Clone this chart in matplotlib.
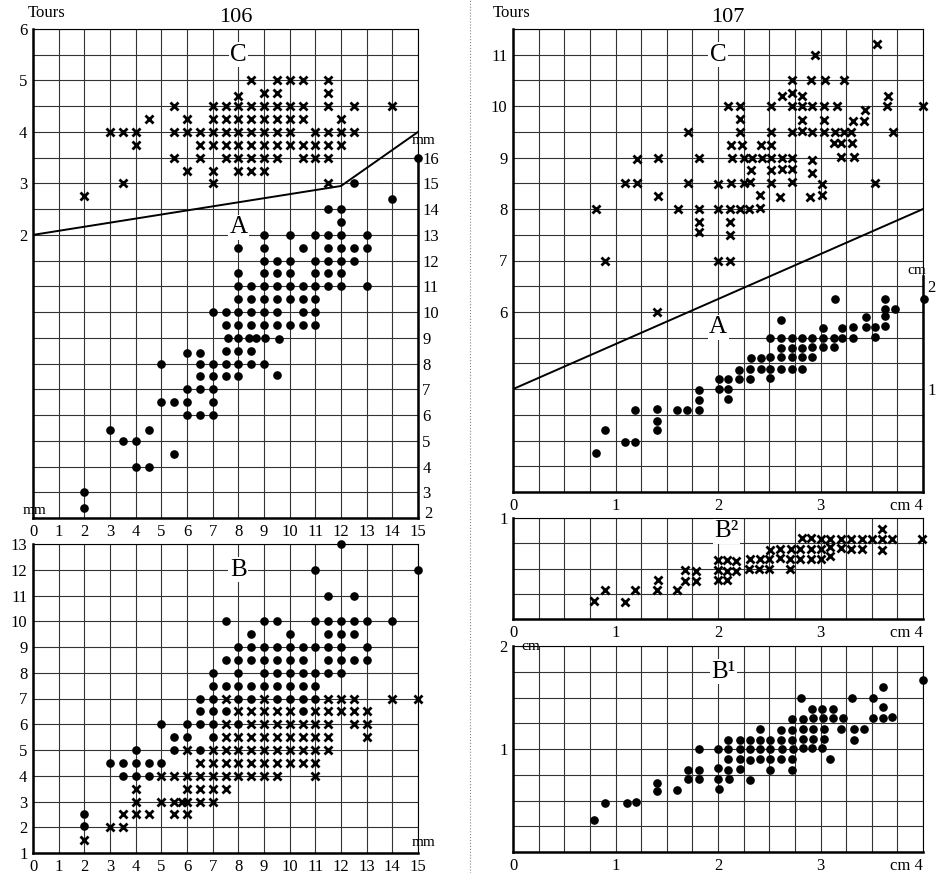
import numpy as np
import matplotlib.pyplot as plt
from matplotlib.lines import Line2D
from matplotlib.transforms import ScaledTranslation

plt.rcParams['font.family'] = ['Liberation Serif', 'DejaVu Serif']

# ---------------- 106 : C (crosses)  x = mm, y = tours
c106_x = [2, 3, 3.5, 4, 4, 3.5, 4.5,
          5.5, 5.5, 5.5, 6, 6, 6, 6.5, 6.5, 6.5,
          7, 7, 7, 7, 7, 7, 7.5, 7.5, 7.5, 7.5, 7.5,
          8, 8, 8, 8, 8, 8, 8, 8.5, 8.5, 8.5, 8.5, 8.5, 8.5, 8.5,
          9, 9, 9, 9, 9, 9, 9, 9.5, 9.5, 9.5, 9.5, 9.5, 9.5, 9.5,
          10, 10, 10, 10, 10, 10.5, 10.5, 10.5, 10.5, 10.5,
          11, 11, 11, 11.5, 11.5, 11.5, 11.5, 11.5, 11.5, 11.5,
          12, 12, 12, 12.5, 12.5, 14]
c106_t = [2.75, 4, 4, 4, 3.75, 3, 4.25,
          4.5, 4, 3.5, 4.25, 4, 3.25, 4, 3.75, 3.5,
          4.5, 4.25, 4, 3.75, 3.25, 3, 4.5, 4.25, 4, 3.75, 3.5,
          4.7, 4.5, 4.25, 4, 3.75, 3.5, 3.25, 5, 4.5, 4.25, 4, 3.75, 3.5, 3.25,
          4.75, 4.5, 4.25, 4, 3.75, 3.5, 3.25, 5, 4.75, 4.5, 4.25, 4, 3.75, 3.5,
          5, 4.5, 4.25, 4, 3.75, 5, 4.5, 4.25, 3.75, 3.5,
          4, 3.75, 3.5, 5, 4.75, 4.5, 4, 3.75, 3.5, 3,
          4.25, 4, 3.75, 4.5, 4, 4.5]

# ---------------- 106 : A (dots)  x = mm, y = mm (right scale)
a106_x = [15, 12.5, 14, 11.5, 12, 12,
          9, 10, 11, 11.5, 12, 13,
          8, 9, 10.5, 11.5, 12, 12.5, 13,
          9, 9.5, 10, 11, 11.5, 12, 12.5,
          8, 9, 9.5, 10, 11, 11.5, 12,
          8, 8.5, 9, 9.5, 10, 10.5, 11, 11.5, 12, 13,
          8, 8.5, 9, 9.5, 10, 10.5, 11,
          7, 7.5, 8, 8.5, 9, 9.5, 10.5, 11,
          7.5, 8, 8.5, 9, 9.5, 10, 10.5, 11,
          7.6, 8, 8.4, 8.7, 9.05, 9.6,
          6, 6.5, 7.5, 8, 8.5,
          5, 6.5, 7, 7.5, 8, 8.5, 9,
          6.5, 7, 7.5, 8, 9.5,
          6, 6.5, 7, 5, 5.5, 6, 7, 6, 6.5, 7,
          3, 4.5, 3.5, 4, 5.5, 4, 4.5, 2, 2]
a106_y = [16, 15, 14.4, 14, 14, 13.5,
          13, 13, 13, 13, 13, 13,
          12.5, 12.5, 12.5, 12.5, 12.5, 12.5, 12.5,
          12, 12, 12, 12, 12, 12, 12,
          11.5, 11.5, 11.5, 11.5, 11.5, 11.5, 11.5,
          11, 11, 11, 11, 11, 11, 11, 11, 11, 11,
          10.5, 10.5, 10.5, 10.5, 10.5, 10.5, 10.5,
          10, 10, 10, 10, 10, 10, 10, 10,
          9.5, 9.5, 9.5, 9.5, 9.5, 9.5, 9.5, 9.5,
          9, 9, 9, 9, 9, 8.95,
          8.4, 8.4, 8.5, 8.5, 8.5,
          8, 8, 8, 8, 8, 8, 8,
          7.5, 7.5, 7.5, 7.5, 7.55,
          7, 7, 7, 6.5, 6.5, 6.5, 6.5, 6, 6, 6,
          5.4, 5.4, 5, 5, 4.5, 4, 4, 3, 2.4]

# ---------------- 106 : B  x = mm
b106_dot_x = [12, 11, 15, 11.5, 12.5,
              7.5, 9, 9.5, 11, 11.5, 12, 12.5, 13, 14,
              8.5, 10, 11.5, 12, 12.5,
              8, 8.5, 9, 9.5, 10, 10.5, 11, 11.5, 12, 13,
              7.5, 8, 8.5, 9, 9.5, 10, 10.5, 11.5, 12, 12.5, 13,
              7, 8, 9, 9.5, 10, 10.5, 11, 11.5, 12,
              7, 7.5, 8, 8.5, 9, 9.5, 10, 10.5, 11,
              6.5, 7, 8, 8.5, 9.5, 10, 10.5, 11,
              6.5, 7, 7.5, 10.5,
              5, 6, 6.5, 7, 8,
              5.5, 6, 7, 4, 5.5, 6.5,
              3, 3.5, 4, 4.5, 5, 3.5, 4, 4.5, 2, 2]
b106_dot_y = [13, 12, 12, 11, 11,
              10, 10, 10, 10, 10, 10, 10, 10, 10,
              9.5, 9.5, 9.5, 9.5, 9.5,
              9, 9, 9, 9, 9, 9, 9, 9, 9, 9,
              8.5, 8.5, 8.5, 8.5, 8.5, 8.5, 8.5, 8.5, 8.5, 8.5, 8.5,
              8, 8, 8, 8, 8, 8, 8, 8, 8,
              7.5, 7.5, 7.5, 7.5, 7.5, 7.5, 7.5, 7.5, 7.5,
              7, 7, 7, 7, 7, 7, 7, 7,
              6.5, 6.5, 6.5, 6.5,
              6, 6, 6, 6, 6,
              5.5, 5.5, 5.5, 5, 5, 5,
              4.5, 4.5, 4.5, 4.5, 4.5, 4, 4, 4, 2.5, 2.05]
b106_x_x = [7.5, 9, 11.5, 12, 12.5, 14, 15,
            8, 8.5, 9, 9.5, 10, 11, 11.5, 12, 12.5, 13,
            7.5, 8.5, 9, 9.5, 10, 10.5, 11, 11.5, 12.5, 13,
            7.5, 8, 8.5, 9, 9.5, 10, 10.5, 11, 11.5, 13,
            6, 7, 7.5, 8, 8.5, 9, 9.5, 10, 10.5, 11, 11.5,
            6.5, 7, 7.5, 8, 8.5, 9, 9.5, 10, 10.5, 11,
            5, 5.5, 6, 6.5, 7, 7.5, 8, 8.5, 9, 9.5, 11,
            4, 6, 6.5, 7, 7.5,
            4, 5, 5.5, 5.8, 6, 6.5, 7,
            3.5, 4, 4.5, 5.5, 6, 3, 3.5, 2]
b106_x_y = [7, 7, 7, 7, 7, 7, 7,
            6.5, 6.5, 6.5, 6.5, 6.5, 6.5, 6.5, 6.5, 6.5, 6.5,
            6, 6, 6, 6, 6, 6, 6, 6, 6, 6,
            5.5, 5.5, 5.5, 5.5, 5.5, 5.5, 5.5, 5.5, 5.5, 5.5,
            5, 5, 5, 5, 5, 5, 5, 5, 5, 5, 5,
            4.5, 4.5, 4.5, 4.5, 4.5, 4.5, 4.5, 4.5, 4.5, 4.5,
            4, 4, 4, 4, 4, 4, 4, 4, 4, 4, 4,
            3.5, 3.5, 3.5, 3.5, 3.5,
            3, 3, 3, 3, 3, 3, 3,
            2.5, 2.5, 2.5, 2.5, 2.5, 2, 2, 1.5]

# ---------------- 107 : C (crosses)  x = cm, y = tours
c107_x = [2.95, 3.55, 2.72, 2.91, 3.04, 3.23, 2.62, 2.72, 2.82, 3.66,
          2.10, 2.21, 2.52, 2.72, 2.82, 2.92, 3.03, 3.16, 3.43, 3.65, 4.0,
          2.21, 2.82, 3.03, 3.32, 3.42,
          1.71, 2.21, 2.52, 2.72, 2.82, 2.92, 3.03, 3.14, 3.23, 3.30, 3.71,
          2.13, 2.23, 2.42, 2.52, 3.13, 3.20, 3.31,
          1.21, 1.41, 1.81, 2.14, 2.25, 2.33, 2.43, 2.52, 2.62, 2.72, 2.92, 3.20, 3.33,
          2.32, 2.52, 2.62, 2.72, 2.92,
          1.09, 1.21, 1.71, 2.0, 2.13, 2.25, 2.31, 2.52, 2.72, 3.01, 3.53,
          1.41, 2.41, 2.60, 2.90, 3.01,
          0.81, 1.61, 1.81, 2.0, 2.12, 2.21, 2.30, 2.41,
          1.81, 2.12, 1.81, 2.12, 0.9, 2.0, 2.12, 1.40]
c107_t = [11, 11.2, 10.5, 10.5, 10.5, 10.5, 10.2, 10.25, 10.2, 10.2,
          10, 10, 10, 10, 10, 10, 10, 10, 9.92, 10, 10,
          9.75, 9.73, 9.73, 9.72, 9.72,
          9.5, 9.5, 9.5, 9.5, 9.52, 9.5, 9.5, 9.5, 9.5, 9.5, 9.5,
          9.25, 9.25, 9.25, 9.25, 9.28, 9.28, 9.28,
          8.97, 9, 9, 9, 9, 9, 9, 9, 9, 9, 8.95, 9.02, 9.02,
          8.75, 8.75, 8.78, 8.78, 8.7,
          8.5, 8.5, 8.5, 8.48, 8.5, 8.5, 8.52, 8.5, 8.52, 8.48, 8.5,
          8.25, 8.27, 8.24, 8.24, 8.27,
          8, 8, 8.01, 8, 8, 8, 8.01, 8.03,
          7.75, 7.75, 7.55, 7.5, 7, 7, 7, 6]

# ---------------- 107 : A (dots)  x = cm, y = cm (right scale)
a107_x = [0.81, 0.90, 1.09, 1.19, 1.19, 1.40, 1.40, 1.40, 1.60, 1.70,
          1.81, 1.81, 1.81, 2.01, 2.01, 2.10, 2.10, 2.10, 2.20, 2.20,
          2.31, 2.31, 2.32, 2.42, 2.42, 2.51, 2.51, 2.51, 2.51,
          2.61, 2.61, 2.61, 2.61, 2.61, 2.72, 2.72, 2.72, 2.72,
          2.82, 2.82, 2.82, 2.82, 2.92, 2.92, 2.92, 3.02, 3.02, 3.02,
          3.13, 3.13, 3.14, 3.21, 3.21, 3.32, 3.32, 3.44, 3.44, 3.53, 3.53,
          3.63, 3.63, 3.63, 3.63, 3.73, 4.01]
a107_y = [0.38, 0.60, 0.49, 0.49, 0.80, 0.81, 0.69, 0.60, 0.80, 0.80,
          0.80, 0.89, 0.99, 1.0, 1.10, 1.10, 1.0, 0.90, 1.10, 1.19,
          1.10, 1.20, 1.30, 1.20, 1.30, 1.11, 1.20, 1.31, 1.50,
          1.67, 1.50, 1.40, 1.31, 1.20, 1.50, 1.40, 1.31, 1.20,
          1.50, 1.40, 1.31, 1.20, 1.50, 1.41, 1.31, 1.59, 1.50, 1.41,
          1.50, 1.41, 1.88, 1.59, 1.50, 1.60, 1.50, 1.70, 1.60, 1.60, 1.51,
          1.88, 1.78, 1.71, 1.61, 1.78, 1.88]

# ---------------- 107 : B2 (crosses)
b2_x = [0.79, 0.90, 1.09, 1.19, 1.40, 1.41, 1.60, 1.68, 1.68, 1.79, 1.79,
        2.0, 2.0, 2.0, 2.09, 2.09, 2.09, 2.18, 2.18, 2.30, 2.31, 2.40, 2.41,
        2.50, 2.50, 2.51, 2.60, 2.60, 2.70, 2.70, 2.71, 2.80, 2.80, 2.82,
        2.91, 2.91, 2.91, 3.0, 3.0, 3.0, 3.09, 3.09, 3.09, 3.20, 3.20,
        3.30, 3.30, 3.40, 3.40, 3.50, 3.60, 3.60, 3.60, 3.70, 3.99]
b2_y = [0.18, 0.29, 0.17, 0.29, 0.29, 0.39, 0.29, 0.38, 0.49, 0.38, 0.48,
        0.39, 0.49, 0.58, 0.39, 0.48, 0.58, 0.48, 0.57, 0.50, 0.59, 0.50, 0.59,
        0.50, 0.59, 0.68, 0.60, 0.69, 0.50, 0.59, 0.69, 0.59, 0.69, 0.80,
        0.59, 0.69, 0.80, 0.59, 0.69, 0.79, 0.62, 0.71, 0.79, 0.70, 0.79,
        0.69, 0.79, 0.69, 0.79, 0.79, 0.89, 0.79, 0.68, 0.79, 0.79]

# ---------------- 107 : B1 (dots)
b1_x = [0.79, 0.90, 1.11, 1.20, 1.40, 1.40, 1.60, 1.71, 1.71, 1.81, 1.81, 1.81,
        2.0, 2.0, 2.0, 2.01, 2.10, 2.10, 2.10, 2.10, 2.11,
        2.21, 2.21, 2.21, 2.21, 2.31, 2.31, 2.31, 2.31,
        2.41, 2.41, 2.41, 2.41, 2.51, 2.51, 2.51, 2.51,
        2.61, 2.61, 2.62, 2.61, 2.72, 2.72, 2.72, 2.73, 2.72, 2.72,
        2.81, 2.83, 2.83, 2.83, 2.83, 2.92, 2.93, 2.93, 2.93, 2.92,
        3.01, 3.02, 3.03, 3.03, 3.01, 3.09, 3.12, 3.12, 3.22, 3.20,
        3.31, 3.33, 3.33, 3.42, 3.51, 3.51, 3.61, 3.61, 3.61, 3.70, 4.0]
b1_y = [0.31, 0.48, 0.48, 0.49, 0.67, 0.59, 0.60, 0.80, 0.71, 1.0, 0.80, 0.71,
        1.0, 0.82, 0.71, 0.61, 1.09, 1.0, 0.90, 0.80, 0.71,
        1.09, 1.0, 0.90, 0.81, 1.09, 1.0, 0.89, 0.70,
        1.19, 1.09, 1.0, 0.90, 1.09, 1.0, 0.90, 0.80,
        1.18, 1.09, 1.0, 0.90, 1.29, 1.18, 1.09, 1.0, 0.90, 0.80,
        1.50, 1.29, 1.19, 1.10, 1.01, 1.39, 1.30, 1.19, 1.10, 1.01,
        1.39, 1.30, 1.19, 1.10, 1.01, 0.90, 1.39, 1.30, 1.30, 1.19,
        1.50, 1.19, 1.09, 1.19, 1.50, 1.30, 1.60, 1.41, 1.30, 1.31, 1.67]

# divider lines
line106_x = [0, 12, 15]
line106_t = [2, 2.95, 4]
line107_x = [0, 4]
line107_cm = [1.0, 2.75]

W, H = 940, 873
fig = plt.figure(figsize=(W / 100, H / 100), dpi=100)


def box(l, t, r, b):
    return [l / W, 1 - b / H, (r - l) / W, (b - t) / H]


def frame(ax, gx, gy):
    ax.set_xticks(gx, minor=True)
    ax.set_yticks(gy, minor=True)
    ax.grid(which='both', color='#333333', lw=0.8)
    ax.set_axisbelow(True)
    ax.tick_params(which='both', length=0, labelsize=12, pad=4)
    for s in ('left', 'bottom'):
        ax.spines[s].set_linewidth(1.8)
    for s in ('top', 'right'):
        ax.spines[s].set_linewidth(0.8)


def twin(ax, lo, hi, ticks, bound):
    t = ax.twinx()
    t.set_ylim(lo, hi)
    t.set_yticks(ticks)
    t.tick_params(length=0, labelsize=12, pad=3)
    for s in ('left', 'top', 'bottom'):
        t.spines[s].set_visible(False)
    t.spines['right'].set_bounds(lo, bound)
    t.spines['right'].set_linewidth(1.8)
    return t


def ftext(x, y, s, **kw):
    fig.text(x / W, 1 - y / H, s, ha='center', va='center', **kw)


def right_cm(ax):
    ax.set_xticks([0, 1, 2, 3, 4])
    ax.set_xticklabels(['0', '1', '2', '3', 'cm 4'])
    ax.get_xticklabels()[-1].set_horizontalalignment('right')


lab = dict(ha='center', va='center', fontsize=18,
           bbox=dict(fc='white', ec='none', pad=1))
xs = dict(ls='none', marker='x', ms=5.5, mew=2.0, color='k', clip_on=False, zorder=3)
ds = dict(ls='none', marker='o', ms=5.2, color='k', clip_on=False, zorder=3)

# ---- 106 top (C + A)
ax = fig.add_axes(box(33, 29, 418, 518))
ax.set_xlim(0, 15)
ax.set_ylim(-3.5, 6)
ax.set_xticks(range(16))
ax.set_yticks([2, 3, 4, 5, 6])
frame(ax, np.arange(0, 15.1, 1), np.arange(-3.5, 6.01, 0.5))
ax.plot(line106_x, line106_t, color='k', lw=1.4)
ax.plot(c106_x, c106_t, **xs)
ax.text(8, 5.5, 'C', **lab)
ax2 = twin(ax, 2, 21, range(2, 17), 16)
ax2.plot(a106_x, a106_y, **ds)
ax2.text(8, 13.3, 'A', **lab)
# lowest right label sits a little higher, clear of the "15" below it
lowest = ax2.get_yticklabels()[0]
lowest.set_transform(lowest.get_transform() + ScaledTranslation(0.02, 0.06, fig.dpi_scale_trans))

# ---- 106 bottom (B)
bx = fig.add_axes(box(33, 544, 418, 853))
bx.set_xlim(0, 15)
bx.set_ylim(1, 13)
bx.set_xticks(range(16))
bx.set_yticks(range(1, 14))
frame(bx, np.arange(0, 15.1, 1), np.arange(1, 13.1, 1))
bx.plot(b106_dot_x, b106_dot_y, **ds)
bx.plot(b106_x_x, b106_x_y, **xs)
bx.text(8, 12, 'B', **lab)

# ---- 107 top (C + A)
rx = fig.add_axes(box(513, 29, 923, 492))
rx.set_xlim(0, 4)
rx.set_ylim(2.5, 11.5)
rx.set_yticks(range(6, 12))
right_cm(rx)
frame(rx, np.arange(0, 4.01, 0.25), np.arange(2.5, 11.51, 0.5))
rx.plot(c107_x, c107_t, **xs)
rx.text(2, 11, 'C', **lab)
rx2 = twin(rx, 0, 4.5, [1, 2], 2.1)
rx2.plot(line107_x, line107_cm, color='k', lw=1.4)
rx2.plot(a107_x, a107_y, **ds)
rx2.text(2, 1.6, 'A', **lab)

# ---- 107 B2
b2 = fig.add_axes(box(513, 518, 923, 619))
b2.set_xlim(0, 4)
b2.set_ylim(0, 1)
b2.set_yticks([1])
right_cm(b2)
frame(b2, np.arange(0, 4.01, 0.25), np.arange(0, 1.01, 0.25))
b2.plot(b2_x, b2_y, **xs)
b2.text(2.08, 0.87, 'B²', **lab)

# ---- 107 B1
b1 = fig.add_axes(box(513, 646, 923, 852))
b1.set_xlim(0, 4)
b1.set_ylim(0, 2)
b1.set_yticks([1, 2])
right_cm(b1)
frame(b1, np.arange(0, 4.01, 0.25), np.arange(0, 2.01, 0.25))
b1.plot(b1_x, b1_y, **ds)
b1.text(2.05, 1.75, 'B¹', **lab)

# titles and unit notes
ftext(236, 17, '106', fontsize=16)
ftext(728, 18, '107', fontsize=16)
ftext(47, 13, 'Tours', fontsize=12)
ftext(512, 13, 'Tours', fontsize=12)
ftext(35, 511, 'mm', fontsize=11)
ftext(424, 141, 'mm', fontsize=11)
ftext(424, 843, 'mm', fontsize=11)
ftext(917, 271, 'cm', fontsize=11)
ftext(531, 647, 'cm', fontsize=11)

fig.add_artist(Line2D([470 / W, 470 / W], [0, 1], ls=':', color='#888888', lw=0.8))

fig.savefig('out.png', dpi=100)
